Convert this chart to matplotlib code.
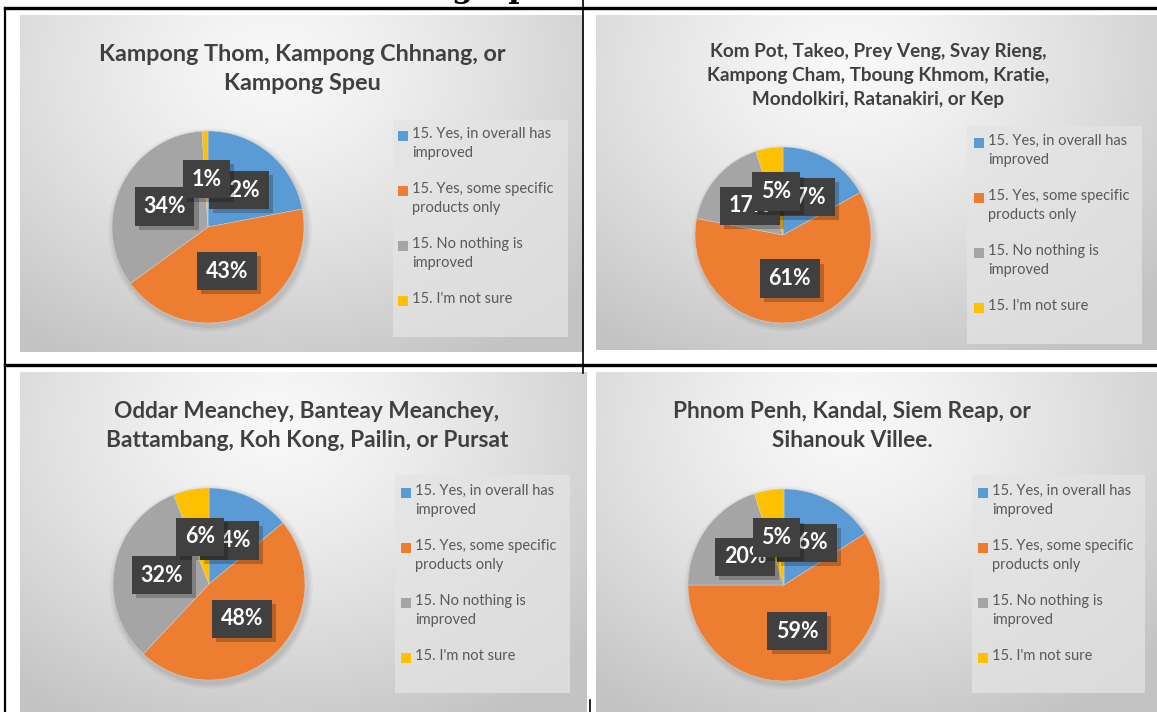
import numpy as np
import matplotlib.pyplot as plt
from matplotlib.patches import Rectangle
from matplotlib.transforms import offset_copy

W, H = 1157, 712

categories = [
    "15. Yes, in overall has\nimproved",
    "15. Yes, some specific\nproducts only",
    "15. No nothing is\nimproved",
    "15. I'm not sure",
]
colors = ["#5B9BD5", "#ED7D31", "#A5A5A5", "#FFC000"]

titles = [
    "Kampong Thom, Kampong Chhnang, or\nKampong Speu",
    "Kom Pot, Takeo, Prey Veng, Svay Rieng,\nKampong Cham, Tboung Khmom, Kratie,\nMondolkiri, Ratanakiri, or Kep",
    "Oddar Meanchey, Banteay Meanchey,\nBattambang, Koh Kong, Pailin, or Pursat",
    "Phnom Penh, Kandal, Siem Reap, or\nSihanouk Villee.",
]
shares_thom = [22, 43, 34, 1]
shares_kampot = [17, 61, 17, 5]
shares_oddar = [14, 48, 32, 6]
shares_phnompenh = [16, 59, 20, 5]
all_shares = [shares_thom, shares_kampot, shares_oddar, shares_phnompenh]

# panel layout in pixels: (x0, y0, x1, y1)
panels = [(20, 15, 584, 352), (596, 15, 1157, 350),
          (20, 372, 587, 712), (596, 372, 1157, 712)]
title_pos = [(302, 69, 16.8), (878, 76, 13.6), (307, 426, 16.3), (852, 426, 16.3)]
pie_geom = [(208, 227, 96), (783, 235, 88), (209, 584, 96), (784, 585, 96)]
legend_box = [(393, 120, 568, 337), (967, 126, 1142, 344),
              (395, 475, 570, 693), (972, 475, 1145, 693)]
legend_first = [(403, 136), (979, 143), (406, 493), (983, 493)]
legend_step = 55

plt.rcParams['font.family'] = ['Lato', 'DejaVu Sans']

fig = plt.figure(figsize=(W / 100, H / 100), dpi=100)
fig.patch.set_facecolor("white")
bg = fig.add_axes([0, 0, 1, 1])
bg.set_xlim(0, W)
bg.set_ylim(H, 0)
bg.axis("off")

# gradient backdrop for each panel
for (x0, y0, x1, y1) in panels:
    nx, ny = 200, 120
    xx, yy = np.meshgrid(np.linspace(0, 1, nx), np.linspace(0, 1, ny))
    d = np.sqrt(((xx - 0.45) / 0.75) ** 2 + ((yy - 0.15) / 1.0) ** 2)
    d = np.clip(d, 0, 1)
    shade = 0.975 - 0.21 * d ** 1.3
    img = np.dstack([shade, shade, shade])
    bg.imshow(img, extent=(x0, x1, y1, y0), aspect="auto", zorder=1,
              interpolation="bilinear")

for (x0, y0, x1, y1) in legend_box:
    bg.add_patch(Rectangle((x0, y0), x1 - x0, y1 - y0, fc="#e4e4e4",
                           ec="none", alpha=0.75, zorder=2))

# table rules
bg.plot([5, W], [8, 8], color="black", lw=2.4, zorder=5)
bg.plot([5, 5], [8, H], color="black", lw=1.6, zorder=5)
bg.plot([5, W], [365, 365], color="black", lw=2.4, zorder=5)
bg.plot([583, 583], [0, 373], color="black", lw=1.2, zorder=5)
bg.plot([590, 590], [700, H], color="black", lw=1.2, zorder=5)
bg.text(452, -3, "graph", fontsize=22, fontweight="bold", family="DejaVu Serif",
        ha="left", va="baseline", color="black", zorder=0)

for i in range(4):
    tx, ty, tfs = title_pos[i]
    bg.text(tx, ty, titles[i], ha="center", va="center", fontsize=tfs,
            fontweight="bold", color="#404040", linespacing=1.5, zorder=6)

    lx, ly = legend_first[i]
    for k, (lab, col) in enumerate(zip(categories, colors)):
        yk = ly + k * legend_step
        bg.add_patch(Rectangle((lx - 5, yk - 5), 10, 10, fc=col, ec="none", zorder=6))
        bg.text(lx + 9, yk - 9, lab, ha="left", va="top", fontsize=10.5,
                color="#595959", linespacing=1.45, zorder=6)

    cx, cy, r = pie_geom[i]
    # soft shadow beneath pie
    for s, a in [(1.06, 0.03), (1.04, 0.04), (1.02, 0.05)]:
        bg.add_patch(plt.Circle((cx + 2, cy + 3), r * s, fc="black", ec="none",
                                alpha=a, zorder=3))
    ax = fig.add_axes([(cx - r) / W, 1 - (cy + r) / H, 2 * r / W, 2 * r / H])
    ax.set_zorder(4)
    wedges, _ = ax.pie(all_shares[i], colors=colors, startangle=90,
                       counterclock=False, radius=1,
                       wedgeprops=dict(linewidth=0.3, edgecolor="#d8d8d8"))
    ax.set_xlim(-1, 1)
    ax.set_ylim(-1, 1)
    ax.set_aspect("equal")
    ax.axis("off")
    shadow_tr = offset_copy(ax.transData, fig=fig, x=3, y=-3, units="points")
    for w, v in zip(wedges, all_shares[i]):
        ang = np.deg2rad((w.theta1 + w.theta2) / 2)
        px, py = 0.5 * np.cos(ang), 0.5 * np.sin(ang)
        ax.text(px, py, f"{v}%", transform=shadow_tr, ha="center", va="center",
                fontsize=15.5, fontweight="bold", color=(0, 0, 0, 0),
                bbox=dict(boxstyle="square,pad=0.4", fc="black", ec="none", alpha=0.22),
                clip_on=False)
        ax.text(px, py, f"{v}%", ha="center", va="center", fontsize=15.5,
                fontweight="bold", color="white",
                bbox=dict(boxstyle="square,pad=0.4", fc="#404040", ec="none"),
                clip_on=False)

fig.savefig("out.png", dpi=100)
